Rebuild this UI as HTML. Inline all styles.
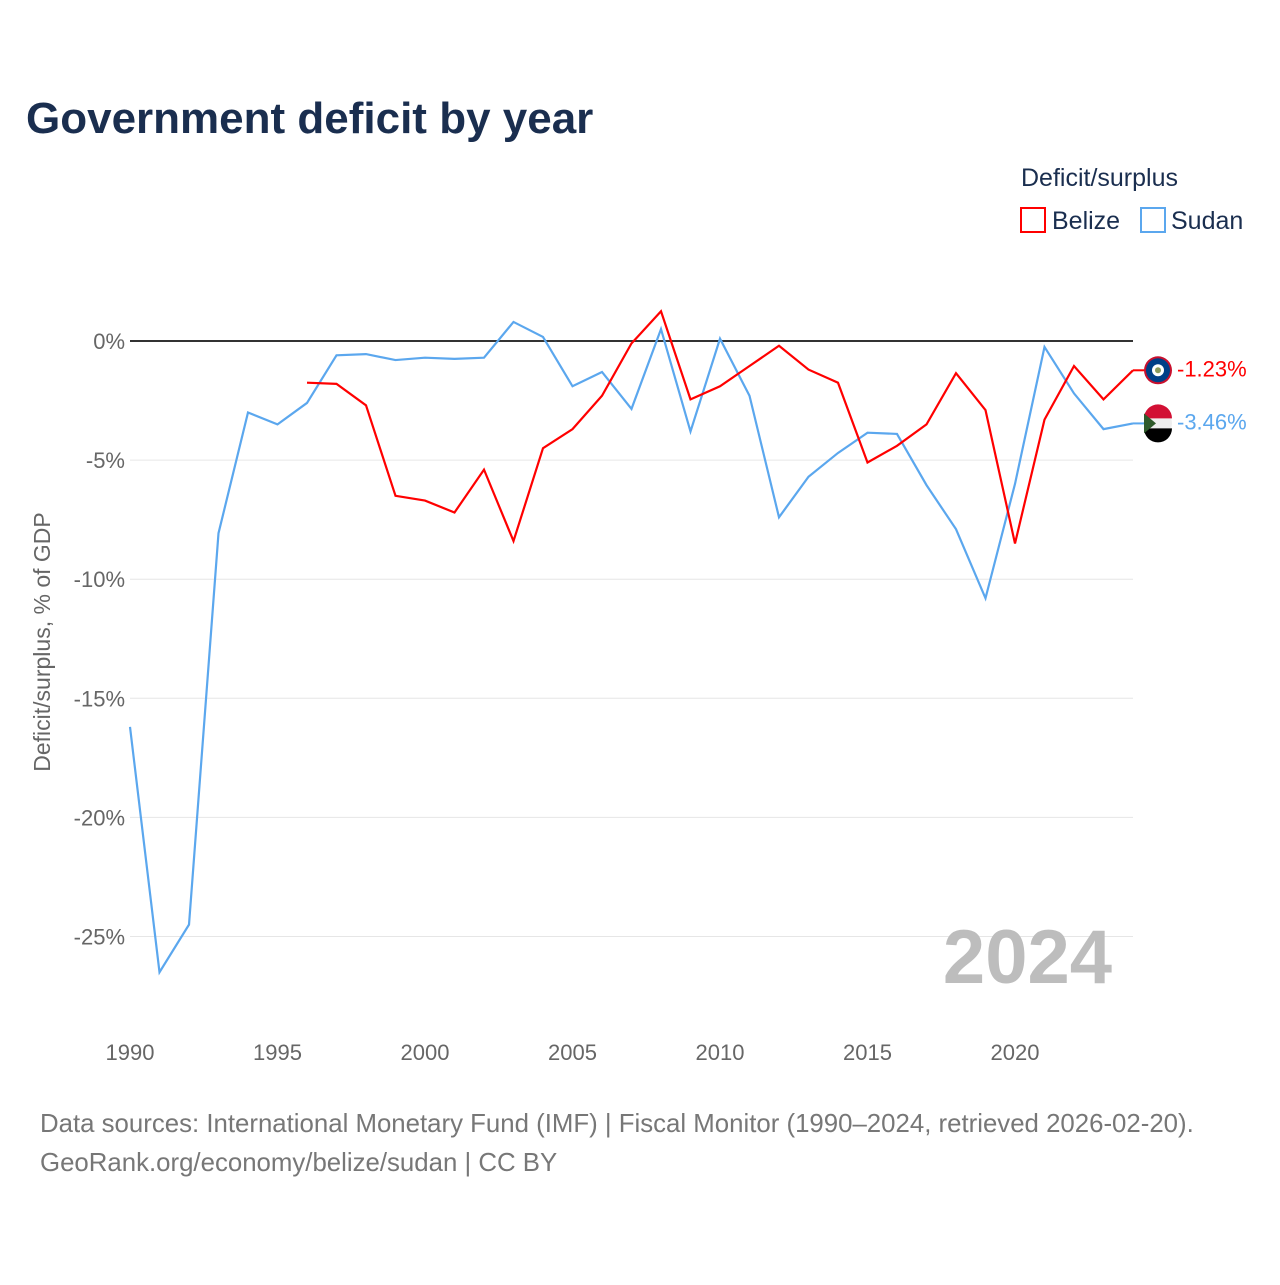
<!DOCTYPE html>
<html><head><meta charset="utf-8"><style>
body{margin:0;background:#fff;font-family:"Liberation Sans",sans-serif}
svg text{font-family:"Liberation Sans",sans-serif}
</style></head><body>
<svg id="chart" width="1280" height="1280" xmlns="http://www.w3.org/2000/svg">
<rect width="1280" height="1280" fill="#fff"/>
<text x="26" y="133" font-size="44" font-weight="bold" fill="#1a2e4f">Government deficit by year</text>
<text x="1021" y="186" font-size="25" fill="#1a2e4f">Deficit/surplus</text>
<g><rect x="1021" y="208" width="24" height="24" fill="none" stroke="#ff0000" stroke-width="2"/><text x="1052" y="229" font-size="25" fill="#1a2e4f">Belize</text></g>
<g><rect x="1141" y="208" width="24" height="24" fill="none" stroke="#5ba7ee" stroke-width="2"/><text x="1171" y="229" font-size="25" fill="#1a2e4f">Sudan</text></g>
<text transform="translate(50,642) rotate(-90)" text-anchor="middle" font-size="23" fill="#666">Deficit/surplus, % of GDP</text>
<g id="grid"></g><g id="series"></g>
<text x="1112" y="983" text-anchor="end" font-size="76" font-weight="bold" fill="#bdbdbd">2024</text>
<text x="40" y="1132" font-size="25.8" fill="#777">Data sources: International Monetary Fund (IMF) | Fiscal Monitor (1990–2024, retrieved 2026-02-20).</text>
<text x="40" y="1171" font-size="25.8" fill="#777">GeoRank.org/economy/belize/sudan | CC BY</text>
</svg>
<script>
const years=[];for(let y=1990;y<=2024;y++)years.push(y);
const sudan=[-16.2,-26.5,-24.5,-8.07,-3.0,-3.5,-2.6,-0.6,-0.55,-0.8,-0.7,-0.75,-0.7,0.8,0.17,-1.9,-1.3,-2.85,0.5,-3.8,0.1,-2.3,-7.4,-5.7,-4.7,-3.85,-3.9,-6.05,-7.9,-10.8,-6.0,-0.25,-2.2,-3.7,-3.46];
const belizeYears=[1996,1997,1998,1999,2000,2001,2002,2003,2004,2005,2006,2007,2008,2009,2010,2011,2012,2013,2014,2015,2016,2017,2018,2019,2020,2021,2022,2023,2024];
const belize=[-1.75,-1.8,-2.7,-6.5,-6.7,-7.2,-5.4,-8.4,-4.5,-3.7,-2.3,-0.1,1.25,-2.45,-1.9,-1.05,-0.2,-1.2,-1.75,-5.1,-4.4,-3.5,-1.35,-2.9,-8.5,-3.3,-1.05,-2.45,-1.23];
const yTicks=[0,-5,-10,-15,-20,-25];
const yTickLabels=["0%","-5%","-10%","-15%","-20%","-25%"];
const xTicks=[1990,1995,2000,2005,2010,2015,2020];
const NS="http://www.w3.org/2000/svg";
const X=y=>130+(y-1990)*(1133-130)/34;
const Y=v=>341-v*23.82;
function mk(t,a,p){const e=document.createElementNS(NS,t);for(const k in a)e.setAttribute(k,a[k]);p.appendChild(e);return e;}
const grid=document.getElementById('grid'),ser=document.getElementById('series');
yTicks.forEach((v,i)=>{
 const l=mk('line',{x1:130,x2:1133,y1:Y(v),y2:Y(v),stroke:v===0?'#333':'#e6e6e6','stroke-width':v===0?2:1},grid);
 
 
 const t=mk('text',{x:125,y:Y(v)+8,'text-anchor':'end','font-size':22,fill:'#666'},grid);t.textContent=yTickLabels[i];
 
 
});
xTicks.forEach(v=>{
 const t=mk('text',{x:X(v),y:1060,'text-anchor':'middle','font-size':22,fill:'#666'},grid);t.textContent=v;
 
 
});
function line(xs,vs,c,name){
 const p=mk('polyline',{points:xs.map((x,i)=>X(x)+','+Y(vs[i])).join(' '),fill:'none',stroke:c,'stroke-width':2.2},ser);
 
 
}
line(years,sudan,'#5ba7ee','sudan-line');
line(belizeYears,belize,'#ff0000','belize-line');
function flag(v,c,name,lab,kind){
 const y=Y(v);
 mk('line',{x1:1133,x2:1144,y1:y,y2:y,stroke:c,'stroke-width':2},ser);
 const g=mk('g',{},ser);
 
 
 if(kind==='bz'){mk('circle',{cx:1158,cy:y,r:14,fill:'#c8102e'},g);mk('circle',{cx:1158,cy:y,r:12,fill:'#003f87'},g);mk('circle',{cx:1158,cy:y,r:6,fill:'#fff'},g);mk('circle',{cx:1158,cy:y,r:3,fill:'#8a9a5b'},g);}
 else{mk('circle',{cx:1158,cy:y,r:14,fill:'#eee'},g);mk('path',{d:`M1144,${y-5}A14,14 0 0 1 1172,${y-5}Z`,fill:'#d21034'},g);mk('path',{d:`M1144,${y+5}L1172,${y+5}A14,14 0 0 1 1144,${y+5}Z`,fill:'#000'},g);mk('path',{d:`M1144,${y-10}L1156,${y}L1144,${y+10}Z`,fill:'#2f5a2b'},g);}
 const t=mk('text',{x:1177,y:y+6,'font-size':22,fill:c},ser);t.textContent=lab;
 
 
}
flag(belize[belize.length-1],'#ff0000','belize',belize[belize.length-1].toFixed(2)+'%','bz');
flag(sudan[sudan.length-1],'#5ba7ee','sudan',sudan[sudan.length-1].toFixed(2)+'%','sd');
</script>
</body></html>
